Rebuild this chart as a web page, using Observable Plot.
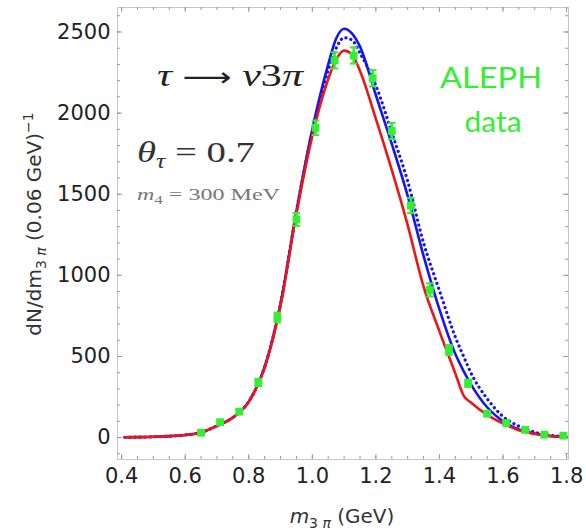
<!DOCTYPE html>
<html>
<head>
<meta charset="utf-8">
<script src="https://cdn.jsdelivr.net/npm/d3@7"></script>
<script src="https://cdn.jsdelivr.net/npm/@observablehq/plot@0.6"></script>
<style>
  html, body { margin: 0; padding: 0; background: white; }
  #chart { width: 586px; height: 532px; }
</style>
</head>
<body>
<div id="chart"></div>
<script>
// ---- data ----
const dataMass = [0.65,0.71,0.77,0.83,0.89,0.95,1.01,1.07,1.13,1.19,1.25,1.31,1.37,1.43,1.49,1.55,1.61,1.67,1.73,1.79];
const dataCounts = [30,95,160,340,740,1345,1910,2325,2355,2215,1890,1430,910,540,335,148,90,48,18,12];
const dataErrors = [10,12,15,22,30,40,45,50,50,50,50,46,40,30,22,15,12,10,8,8];

const curveMass     = [0.41,0.45,0.5,0.55,0.6,0.65,0.7,0.75,0.8,0.85,0.9,0.95,1.0,1.05,1.075,1.1,1.125,1.15,1.2,1.25,1.3,1.35,1.4,1.45,1.476,1.5,1.55,1.6,1.65,1.7,1.75,1.8];
const curveRed      = [2,3,5,9,16,32,72,122,220,430,815,1380,1860,2210,2330,2385,2360,2260,1965,1650,1310,930,655,395,259,215,140,87,45,22,8,2];
const curveBlue     = [2,3,5,9,16,32,73,124,222,435,825,1395,1900,2300,2460,2520,2490,2410,2110,1810,1490,1120,790,515,410,325,187,100,50,25,10,4];
const curveBlueDot  = [2,3,5,9,16,32,73,124,222,435,825,1395,1885,2265,2400,2465,2450,2370,2170,1880,1580,1200,905,620,500,395,240,130,70,33,14,5];

const xTickValues = [0.4,0.6,0.8,1.0,1.2,1.4,1.6,1.8];
const yTickValues = [0,500,1000,1500,2000,2500];

// ---- layout ----
const W = 586, H = 532;
const mL = 117, mR = 18, mT = 7, mB = 73;
const pw = W - mL - mR, ph = H - mT - mB;
const green = "#33ee33", blue = "#1515f0", red = "#ee1515";

const points = dataMass.map((m, i) => ({m, n: dataCounts[i], e: dataErrors[i]}));
const curves = curveMass.map((m, i) => ({m, red: curveRed[i], blue: curveBlue[i], dot: curveBlueDot[i]}));

const xMinor = d3.range(0.4, 1.801, 0.05).map(v => +v.toFixed(2));
const yMinor = d3.range(-100, 2651, 100);

const capSymbol = {
  draw(context, size) {
    const w = Math.sqrt(size / Math.PI);
    context.moveTo(-w, 0);
    context.lineTo(w, 0);
  }
};

const tickColor = "#9a9a9a";
const chart = Plot.plot({
  width: W, height: H,
  marginLeft: mL, marginRight: mR, marginTop: mT, marginBottom: mB,
  x: {domain: [0.387, 1.806]},
  y: {domain: [-135, 2651]},
  style: {fontFamily: "DejaVu Sans", fontSize: "21px", color: "#222", background: "white"},
  marks: [
    Plot.frame({stroke: "#c8c8c8"}),
    // inward ticks (bottom / top)
    Plot.tickX(xMinor, {x: d => d, insetTop: ph - 3, stroke: tickColor}),
    Plot.tickX(xMinor, {x: d => d, insetBottom: ph - 3, stroke: tickColor}),
    Plot.tickX(xTickValues, {x: d => d, insetTop: ph - 5, stroke: tickColor}),
    Plot.tickX(xTickValues, {x: d => d, insetBottom: ph - 5, stroke: tickColor}),
    // inward ticks (left / right)
    Plot.tickY(yMinor, {y: d => d, insetRight: pw - 3, stroke: tickColor}),
    Plot.tickY(yMinor, {y: d => d, insetLeft: pw - 3, stroke: tickColor}),
    Plot.tickY(yTickValues, {y: d => d, insetRight: pw - 5, stroke: tickColor}),
    Plot.tickY(yTickValues, {y: d => d, insetLeft: pw - 5, stroke: tickColor}),
    Plot.axisX({ticks: xTickValues, tickSize: 0, tickPadding: 9, label: null, fontSize: 21, tickFormat: d => d.toFixed(1), fill: "#222"}),
    Plot.axisY({ticks: yTickValues, tickSize: 0, tickPadding: 7, label: null, fontSize: 21, tickFormat: d => String(d), fill: "#222"}),
    // model curves
    Plot.line(curves, {x: "m", y: "blue", stroke: blue, strokeWidth: 2.6, curve: "monotone-x"}),
    Plot.line(curves, {x: "m", y: "dot", stroke: blue, strokeWidth: 3.2, strokeDasharray: "0.1 5", strokeLinecap: "round", curve: "monotone-x"}),
    Plot.line(curves, {x: "m", y: "red", stroke: red, strokeWidth: 2.6, curve: "monotone-x"}),
    // ALEPH data with error bars
    Plot.ruleX(points, {x: "m", y1: d => d.n - d.e, y2: d => d.n + d.e, stroke: green, strokeWidth: 2.5}),
    Plot.dot(points, {x: "m", y: d => d.n - d.e, symbol: capSymbol, r: 3.8, stroke: green, strokeWidth: 2, fill: "none"}),
    Plot.dot(points, {x: "m", y: d => d.n + d.e, symbol: capSymbol, r: 3.8, stroke: green, strokeWidth: 2, fill: "none"}),
    Plot.dot(points, {x: "m", y: "n", symbol: "square", r: 4.4, fill: green, stroke: "none"})
  ]
});
document.getElementById("chart").appendChild(chart);

// ---- labels and annotations ----
const svg = d3.select(chart);
const serif = "'Liberation Serif', 'DejaVu Serif', serif";

function addText(x, y, opts, parts) {
  const t = svg.append("text")
    .attr("x", x).attr("y", y)
    .attr("text-anchor", opts.anchor || "start")
    .attr("font-family", opts.family)
    .attr("font-size", opts.size)
    .attr("fill", opts.fill || "#222");
  if (opts.rotate) t.attr("transform", `rotate(${opts.rotate},${x},${y})`);
  if (opts.length) t.attr("textLength", opts.length).attr("lengthAdjust", "spacingAndGlyphs");
  for (const p of parts) {
    const s = t.append("tspan").text(p.t);
    if (p.italic) s.attr("font-style", "italic");
    if (p.size) s.attr("font-size", p.size);
    if (p.dy) s.attr("dy", p.dy);
    if (p.family) s.attr("font-family", p.family);
  }
  return t;
}

// y axis label
addText(41, 224, {anchor: "middle", family: "DejaVu Sans", size: 20, rotate: -90, fill: "#333"}, [
  {t: "dN/dm"},
  {t: "3 ", size: 14, dy: 5},
  {t: "π", size: 14, italic: true},
  {t: " (0.06 GeV)", dy: -5},
  {t: "−1", size: 14, dy: -8}
]);

// x axis label
addText(342, 523, {anchor: "middle", family: "DejaVu Sans", size: 20, fill: "#333"}, [
  {t: "m", italic: true},
  {t: "3 ", size: 14, dy: 5},
  {t: "π", size: 14, italic: true},
  {t: " (GeV)", dy: -5}
]);

// process
addText(157, 86, {family: serif, size: 32, length: 146, fill: "#222"}, [
  {t: "τ", italic: true},
  {t: " "},
  {t: "⟶", family: "'DejaVu Sans', sans-serif", size: 26},
  {t: " "},
  {t: "ν", italic: true},
  {t: "3"},
  {t: "π", italic: true}
]);

addText(137, 162, {family: serif, size: 30, length: 118, fill: "#333"}, [
  {t: "θ", italic: true},
  {t: "τ", italic: true, size: 20, dy: 6},
  {t: " = 0.7", dy: -6}
]);

addText(137, 200, {family: serif, size: 17, length: 143, fill: "#777"}, [
  {t: "m", italic: true},
  {t: "4", size: 12, dy: 4},
  {t: " = 300 MeV", dy: -4}
]);

addText(491, 88, {anchor: "middle", family: "Lato, 'Open Sans', sans-serif", size: 29, length: 102, fill: green}, [
  {t: "ALEPH"}
]);
addText(493, 132, {anchor: "middle", family: "Lato, 'Open Sans', sans-serif", size: 29, length: 57, fill: green}, [
  {t: "data"}
]);
</script>
</body>
</html>
